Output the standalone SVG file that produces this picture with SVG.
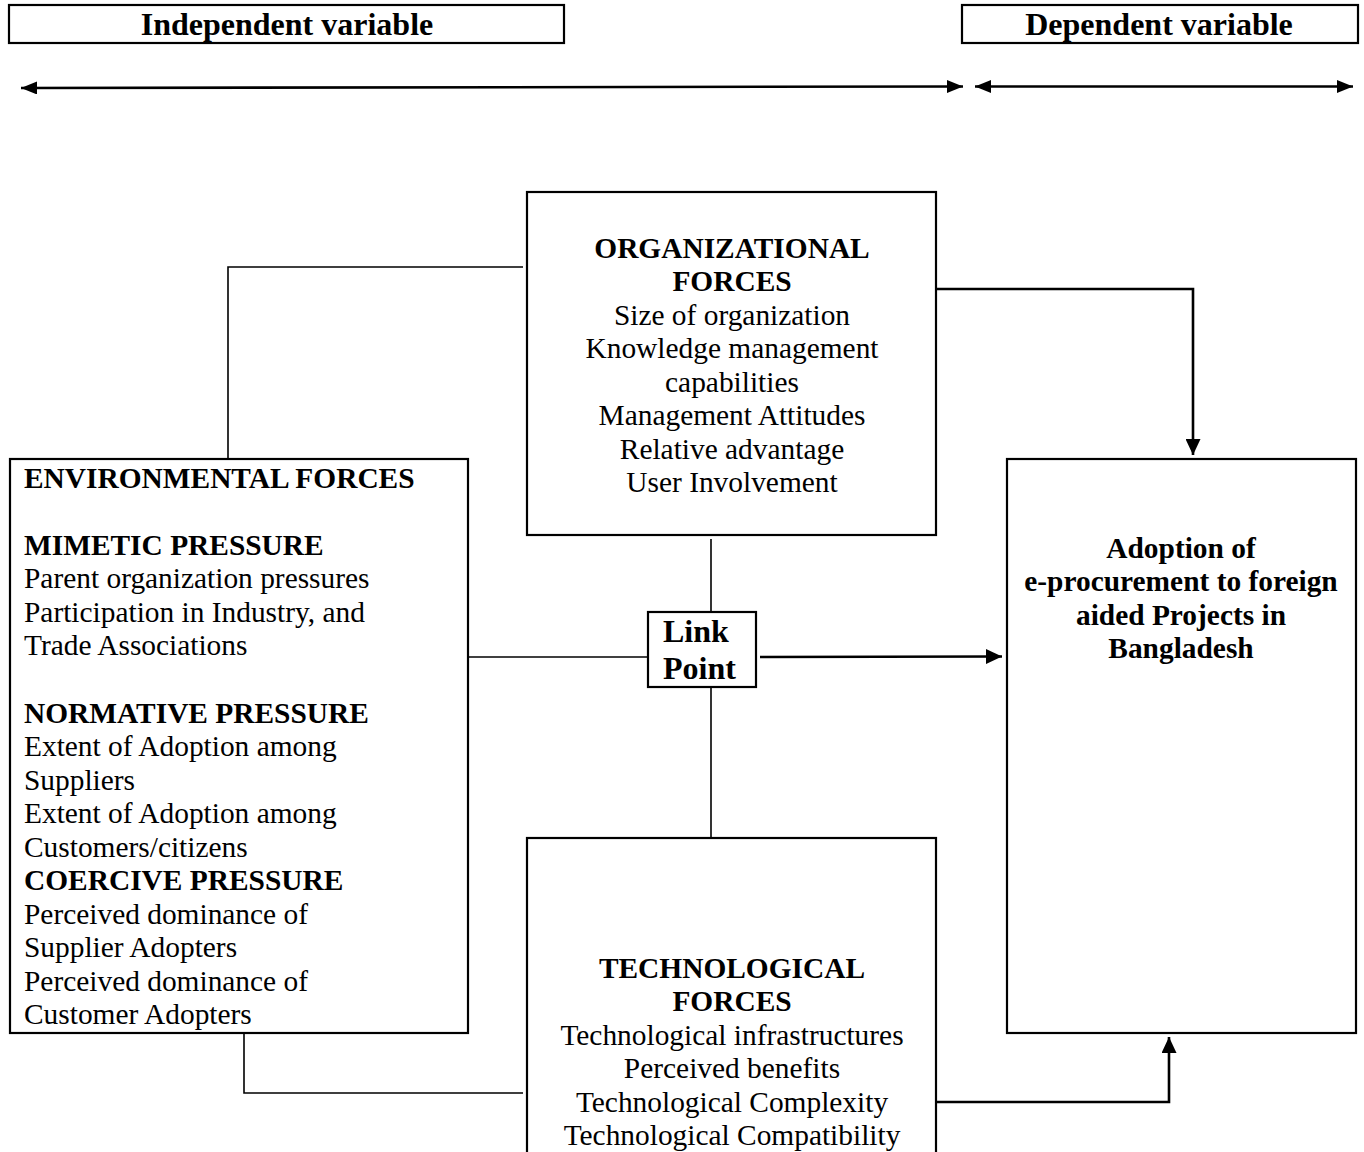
<svg xmlns="http://www.w3.org/2000/svg" width="1364" height="1152" viewBox="0 0 1364 1152">
  <style>
    .box { fill: #ffffff; stroke: #000000; stroke-width: 2.2; }
    .conn { fill: none; stroke: #000000; stroke-width: 1.6; }
    .thick { stroke-width: 2.6; }
    text { font-family: "Liberation Serif", "Times New Roman", serif; fill: #000000; font-size: 29.4px; }
    .b { font-weight: bold; }
    .c { text-anchor: middle; }
    .hdr { font-size: 32px; font-weight: bold; text-anchor: middle; }
    .lp { font-size: 32px; font-weight: bold; }
  </style>
  <defs>
    <marker id="arrow" viewBox="0 0 16 15" refX="16" refY="7.5" markerWidth="16" markerHeight="15" markerUnits="userSpaceOnUse" orient="auto-start-reverse">
      <path d="M0,0 L16,7.5 L0,15 z" fill="#000000"/>
    </marker>
    <marker id="arrow-sm" viewBox="0 0 16 13" refX="16" refY="6.5" markerWidth="16" markerHeight="13" markerUnits="userSpaceOnUse" orient="auto-start-reverse">
      <path d="M0,0 L16,6.5 L0,13 z" fill="#000000"/>
    </marker>
  </defs>

  <rect width="1364" height="1152" fill="#ffffff"/>

  <!-- column headings -->
  <g id="hdr-independent">
    <rect class="box" x="9" y="5" width="555" height="38"/>
    <text class="hdr" x="287" y="35">Independent variable</text>
  </g>
  <g id="hdr-dependent">
    <rect class="box" x="962" y="5" width="396" height="38"/>
    <text class="hdr" x="1159" y="35">Dependent variable</text>
  </g>

  <!-- span arrows under the headings -->
  <g id="spans">
    <line class="conn thick" x1="21" y1="88" x2="963" y2="86.5" marker-start="url(#arrow-sm)" marker-end="url(#arrow-sm)"/>
    <line class="conn thick" x1="975" y1="86.5" x2="1353" y2="86.5" marker-start="url(#arrow-sm)" marker-end="url(#arrow-sm)"/>
  </g>

  <!-- connectors -->
  <g id="connectors">
    <path class="conn" d="M228,459 V267 H523"/>
    <path class="conn thick" d="M936,289 H1193 V455" marker-end="url(#arrow)"/>
    <path class="conn" d="M711,539 V612"/>
    <path class="conn" d="M711,688 V838"/>
    <path class="conn" d="M468,657 H648"/>
    <path class="conn thick" d="M760,657 L1002,656.5" marker-end="url(#arrow)"/>
    <path class="conn" d="M244,1033 V1093 H523"/>
    <path class="conn thick" d="M936,1102 H1169 V1037" marker-end="url(#arrow)"/>
  </g>

  <g id="organizational">
    <rect class="box" x="527" y="192" width="409" height="343"/>
    <text class="c b" x="732" y="257.5">ORGANIZATIONAL</text>
    <text class="c b" x="732" y="291">FORCES</text>
    <text class="c" x="732" y="324.5">Size of organization</text>
    <text class="c" x="732" y="358">Knowledge management</text>
    <text class="c" x="732" y="391.5">capabilities</text>
    <text class="c" x="732" y="425">Management Attitudes</text>
    <text class="c" x="732" y="458.5">Relative advantage</text>
    <text class="c" x="732" y="492">User Involvement</text>
  </g>

  <g id="environmental">
    <rect class="box" x="10" y="459" width="458" height="574"/>
    <text x="24" y="487.5" class="b">ENVIRONMENTAL FORCES</text>
    <text x="24" y="554.5" class="b">MIMETIC PRESSURE</text>
    <text x="24" y="588">Parent organization pressures</text>
    <text x="24" y="621.5">Participation in Industry, and</text>
    <text x="24" y="655">Trade Associations</text>
    <text x="24" y="722.5" class="b">NORMATIVE PRESSURE</text>
    <text x="24" y="756">Extent of Adoption among</text>
    <text x="24" y="789.5">Suppliers</text>
    <text x="24" y="823">Extent of Adoption among</text>
    <text x="24" y="856.5">Customers/citizens</text>
    <text x="24" y="890" class="b">COERCIVE PRESSURE</text>
    <text x="24" y="923.5">Perceived dominance of</text>
    <text x="24" y="957">Supplier Adopters</text>
    <text x="24" y="990.5">Perceived dominance of</text>
    <text x="24" y="1024">Customer Adopters</text>
  </g>

  <g id="link-point">
    <rect class="box" x="648" y="612" width="108" height="75"/>
    <text class="lp" x="663" y="642">Link</text>
    <text class="lp" x="663" y="678.5">Point</text>
  </g>

  <g id="technological">
    <rect class="box" x="527" y="838" width="409" height="330"/>
    <text class="c b" x="732" y="977.5">TECHNOLOGICAL</text>
    <text class="c b" x="732" y="1011">FORCES</text>
    <text class="c" x="732" y="1044.5">Technological infrastructures</text>
    <text class="c" x="732" y="1078">Perceived benefits</text>
    <text class="c" x="732" y="1111.5">Technological Complexity</text>
    <text class="c" x="732" y="1145">Technological Compatibility</text>
  </g>

  <g id="adoption">
    <rect class="box" x="1007" y="459" width="349" height="574"/>
    <text class="c b" x="1181" y="557.5">Adoption of</text>
    <text class="c b" x="1181" y="591">e-procurement to foreign</text>
    <text class="c b" x="1181" y="624.5">aided Projects in</text>
    <text class="c b" x="1181" y="658">Bangladesh</text>
  </g>
</svg>
